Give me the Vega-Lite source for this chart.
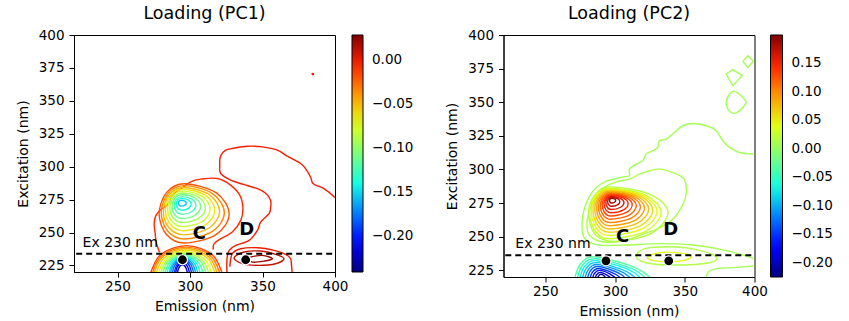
{
"$schema":"https://vega.github.io/schema/vega-lite/v6.json",
"background":"white",
"padding":{"left":15,"top":4,"right":2,"bottom":0},
"spacing":29.5,
"config":{
 "font":"DejaVu Sans",
 "view":{"stroke":"#000","strokeWidth":1},
 "axis":{"labelFont":"DejaVu Sans","labelFontSize":13.5,"labelColor":"#000","titleFont":"DejaVu Sans","titleFontSize":14,"titleFontWeight":"normal","titleColor":"#000","tickColor":"#000","domainColor":"#000","tickSize":5,"grid":false,"labelFlush":false,"labelOverlap":false},
 "axisX":{"labelPadding":2,"titlePadding":7},
 "axisY":{"labelPadding":5,"titlePadding":8},
 "legend":{"labelFont":"DejaVu Sans","labelFontSize":13.5,"labelColor":"#000","padding":0,"offset":17,"labelOffset":9,"gradientStrokeColor":"#000","gradientStrokeWidth":1,"labelOverlap":false},
 "title":{"font":"DejaVu Sans","fontSize":17.5,"fontWeight":"normal","color":"#000","offset":6},
 "line":{"strokeWidth":1.4}
},
"datasets":{
"o1":[
{"g":"A","l":-0.003,"i":0,"x":400,"y":276.5},{"g":"A","l":-0.003,"i":1,"x":392.4,"y":283.3},{"g":"A","l":-0.003,"i":2,"x":385,"y":287},{"g":"A","l":-0.003,"i":3,"x":383.2,"y":292},{"g":"A","l":-0.003,"i":4,"x":380,"y":298},{"g":"A","l":-0.003,"i":5,"x":376.3,"y":302.4},{"g":"A","l":-0.003,"i":6,"x":367,"y":308},{"g":"A","l":-0.003,"i":7,"x":360.2,"y":312.5},{"g":"A","l":-0.003,"i":8,"x":350,"y":315},{"g":"A","l":-0.003,"i":9,"x":339.6,"y":315.5},{"g":"A","l":-0.003,"i":10,"x":330,"y":314},{"g":"A","l":-0.003,"i":11,"x":324.6,"y":312.5},{"g":"A","l":-0.003,"i":12,"x":321,"y":308},{"g":"A","l":-0.003,"i":13,"x":320.5,"y":301},{"g":"A","l":-0.003,"i":14,"x":321.2,"y":294.8},{"g":"A","l":-0.003,"i":15,"x":328.1,"y":289.7},{"g":"A","l":-0.003,"i":16,"x":337,"y":286.5},{"g":"A","l":-0.003,"i":17,"x":346.5,"y":283.3},{"g":"A","l":-0.003,"i":18,"x":352,"y":280},{"g":"A","l":-0.003,"i":19,"x":355.6,"y":274.5},{"g":"A","l":-0.003,"i":20,"x":355.5,"y":268},{"g":"A","l":-0.003,"i":21,"x":354.5,"y":264.3},{"g":"A","l":-0.003,"i":22,"x":348.8,"y":258},{"g":"A","l":-0.003,"i":23,"x":346.5,"y":251.6},{"g":"A","l":-0.003,"i":24,"x":340.8,"y":244},{"g":"A","l":-0.003,"i":25,"x":331.6,"y":240.2},{"g":"A","l":-0.003,"i":26,"x":327,"y":236.4},{"g":"A","l":-0.003,"i":27,"x":325.5,"y":230},{"g":"A","l":-0.003,"i":28,"x":325.5,"y":219},
{"g":"B","l":-0.008,"i":0,"x":279,"y":235},{"g":"B","l":-0.008,"i":1,"x":276.8,"y":242},{"g":"B","l":-0.008,"i":2,"x":276,"y":249},{"g":"B","l":-0.008,"i":3,"x":275.3,"y":257},{"g":"B","l":-0.008,"i":4,"x":276.5,"y":263},{"g":"B","l":-0.008,"i":5,"x":279.9,"y":267.5},{"g":"B","l":-0.008,"i":6,"x":284.5,"y":271},{"g":"B","l":-0.008,"i":7,"x":286.7,"y":276},{"g":"B","l":-0.008,"i":8,"x":289.5,"y":280},{"g":"B","l":-0.008,"i":9,"x":294.8,"y":284},{"g":"B","l":-0.008,"i":10,"x":300.5,"y":288.5},{"g":"B","l":-0.008,"i":11,"x":307.4,"y":290.5},{"g":"B","l":-0.008,"i":12,"x":318.9,"y":291},{"g":"B","l":-0.008,"i":13,"x":328,"y":286},{"g":"B","l":-0.008,"i":14,"x":334.5,"y":278},{"g":"B","l":-0.008,"i":15,"x":336.5,"y":268},{"g":"B","l":-0.008,"i":16,"x":335,"y":259.2},{"g":"B","l":-0.008,"i":17,"x":329.2,"y":250.3},{"g":"B","l":-0.008,"i":18,"x":321.2,"y":245.3},{"g":"B","l":-0.008,"i":19,"x":316.6,"y":241.5},{"g":"B","l":-0.008,"i":20,"x":316,"y":237},
{"g":"Da","l":0,"i":0,"x":327.5,"y":224},{"g":"Da","l":0,"i":1,"x":329.2,"y":233.9},{"g":"Da","l":0,"i":2,"x":335,"y":237.7},{"g":"Da","l":0,"i":3,"x":346.5,"y":238.4},{"g":"Da","l":0,"i":4,"x":357.9,"y":236.4},{"g":"Da","l":0,"i":5,"x":366,"y":233.4},{"g":"Da","l":0,"i":6,"x":369.4,"y":230.1},{"g":"Da","l":0,"i":7,"x":370,"y":225},{"g":"Da","l":0,"i":8,"x":370.5,"y":219},
{"g":"E0","l":-0.015,"i":0,"x":272,"y":216},{"g":"E0","l":-0.015,"i":1,"x":279.47,"y":232.97},{"g":"E0","l":-0.015,"i":2,"x":297.5,"y":240},{"g":"E0","l":-0.015,"i":3,"x":315.53,"y":232.97},{"g":"E0","l":-0.015,"i":4,"x":323,"y":216},
{"g":"E1","l":-0.03,"i":0,"x":273.3,"y":216},{"g":"E1","l":-0.03,"i":1,"x":280.33,"y":232.19},{"g":"E1","l":-0.03,"i":2,"x":297.3,"y":238.9},{"g":"E1","l":-0.03,"i":3,"x":314.27,"y":232.19},{"g":"E1","l":-0.03,"i":4,"x":321.3,"y":216},
{"g":"E2","l":-0.045,"i":0,"x":274.5,"y":216},{"g":"E2","l":-0.045,"i":1,"x":281.11,"y":231.48},{"g":"E2","l":-0.045,"i":2,"x":297.05,"y":237.9},{"g":"E2","l":-0.045,"i":3,"x":312.99,"y":231.48},{"g":"E2","l":-0.045,"i":4,"x":319.6,"y":216},
{"g":"E3","l":-0.06,"i":0,"x":276,"y":216},{"g":"E3","l":-0.06,"i":1,"x":282.15,"y":230.63},{"g":"E3","l":-0.06,"i":2,"x":297,"y":236.7},{"g":"E3","l":-0.06,"i":3,"x":311.85,"y":230.63},{"g":"E3","l":-0.06,"i":4,"x":318,"y":216},
{"g":"E4","l":-0.075,"i":0,"x":277.5,"y":216},{"g":"E4","l":-0.075,"i":1,"x":283.1,"y":229.72},{"g":"E4","l":-0.075,"i":2,"x":296.6,"y":235.4},{"g":"E4","l":-0.075,"i":3,"x":310.1,"y":229.72},{"g":"E4","l":-0.075,"i":4,"x":315.7,"y":216},
{"g":"E5","l":-0.09,"i":0,"x":279,"y":216},{"g":"E5","l":-0.09,"i":1,"x":284.08,"y":228.94},{"g":"E5","l":-0.09,"i":2,"x":296.35,"y":234.3},{"g":"E5","l":-0.09,"i":3,"x":308.62,"y":228.94},{"g":"E5","l":-0.09,"i":4,"x":313.7,"y":216},
{"g":"E6","l":-0.105,"i":0,"x":280.5,"y":216},{"g":"E6","l":-0.105,"i":1,"x":285.07,"y":228.3},{"g":"E6","l":-0.105,"i":2,"x":296.1,"y":233.4},{"g":"E6","l":-0.105,"i":3,"x":307.13,"y":228.3},{"g":"E6","l":-0.105,"i":4,"x":311.7,"y":216},
{"g":"E7","l":-0.12,"i":0,"x":282,"y":216},{"g":"E7","l":-0.12,"i":1,"x":286.06,"y":227.67},{"g":"E7","l":-0.12,"i":2,"x":295.85,"y":232.5},{"g":"E7","l":-0.12,"i":3,"x":305.64,"y":227.67},{"g":"E7","l":-0.12,"i":4,"x":309.7,"y":216},
{"g":"E8","l":-0.135,"i":0,"x":283.5,"y":216},{"g":"E8","l":-0.135,"i":1,"x":287.05,"y":227.17},{"g":"E8","l":-0.135,"i":2,"x":295.6,"y":231.8},{"g":"E8","l":-0.135,"i":3,"x":304.15,"y":227.17},{"g":"E8","l":-0.135,"i":4,"x":307.7,"y":216},
{"g":"E9","l":-0.15,"i":0,"x":285,"y":216},{"g":"E9","l":-0.15,"i":1,"x":288.08,"y":226.61},{"g":"E9","l":-0.15,"i":2,"x":295.5,"y":231},{"g":"E9","l":-0.15,"i":3,"x":302.92,"y":226.61},{"g":"E9","l":-0.15,"i":4,"x":306,"y":216},
{"g":"E10","l":-0.165,"i":0,"x":286,"y":216},{"g":"E10","l":-0.165,"i":1,"x":288.71,"y":226.04},{"g":"E10","l":-0.165,"i":2,"x":295.25,"y":230.2},{"g":"E10","l":-0.165,"i":3,"x":301.79,"y":226.04},{"g":"E10","l":-0.165,"i":4,"x":304.5,"y":216},
{"g":"E11","l":-0.18,"i":0,"x":287.3,"y":216},{"g":"E11","l":-0.18,"i":1,"x":289.6,"y":225.4},{"g":"E11","l":-0.18,"i":2,"x":295.15,"y":229.3},{"g":"E11","l":-0.18,"i":3,"x":300.7,"y":225.4},{"g":"E11","l":-0.18,"i":4,"x":303,"y":216},
{"g":"E12","l":-0.195,"i":0,"x":288.7,"y":216},{"g":"E12","l":-0.195,"i":1,"x":290.58,"y":224.7},{"g":"E12","l":-0.195,"i":2,"x":295.1,"y":228.3},{"g":"E12","l":-0.195,"i":3,"x":299.62,"y":224.7},{"g":"E12","l":-0.195,"i":4,"x":301.5,"y":216},
{"g":"E13","l":-0.21,"i":0,"x":289.7,"y":216},{"g":"E13","l":-0.21,"i":1,"x":291.21,"y":223.78},{"g":"E13","l":-0.21,"i":2,"x":294.85,"y":227},{"g":"E13","l":-0.21,"i":3,"x":298.49,"y":223.78},{"g":"E13","l":-0.21,"i":4,"x":300,"y":216},
{"g":"E14","l":-0.225,"i":0,"x":291,"y":216},{"g":"E14","l":-0.225,"i":1,"x":292.1,"y":222.72},{"g":"E14","l":-0.225,"i":2,"x":294.75,"y":225.5},{"g":"E14","l":-0.225,"i":3,"x":297.4,"y":222.72},{"g":"E14","l":-0.225,"i":4,"x":298.5,"y":216}
],
"c1":[
{"g":"U0","l":-0.02,"i":0,"x":327,"y":264},{"g":"U0","l":-0.02,"i":1,"x":317.92,"y":280.26},{"g":"U0","l":-0.02,"i":2,"x":296,"y":287},{"g":"U0","l":-0.02,"i":3,"x":283.77,"y":280.26},{"g":"U0","l":-0.02,"i":4,"x":278.7,"y":264},{"g":"U0","l":-0.02,"i":5,"x":283.77,"y":248.45},{"g":"U0","l":-0.02,"i":6,"x":296,"y":242},{"g":"U0","l":-0.02,"i":7,"x":317.92,"y":248.45},
{"g":"U1","l":-0.035,"i":0,"x":323.72,"y":264.94},{"g":"U1","l":-0.035,"i":1,"x":315.53,"y":279.55},{"g":"U1","l":-0.035,"i":2,"x":295.78,"y":285.61},{"g":"U1","l":-0.035,"i":3,"x":284.75,"y":279.55},{"g":"U1","l":-0.035,"i":4,"x":280.18,"y":264.94},{"g":"U1","l":-0.035,"i":5,"x":284.75,"y":250.92},{"g":"U1","l":-0.035,"i":6,"x":295.78,"y":245.11},{"g":"U1","l":-0.035,"i":7,"x":315.53,"y":250.92},
{"g":"U2","l":-0.05,"i":0,"x":320.45,"y":265.89},{"g":"U2","l":-0.05,"i":1,"x":313.16,"y":278.85},{"g":"U2","l":-0.05,"i":2,"x":295.56,"y":284.22},{"g":"U2","l":-0.05,"i":3,"x":285.73,"y":278.85},{"g":"U2","l":-0.05,"i":4,"x":281.66,"y":265.89},{"g":"U2","l":-0.05,"i":5,"x":285.73,"y":253.4},{"g":"U2","l":-0.05,"i":6,"x":295.56,"y":248.22},{"g":"U2","l":-0.05,"i":7,"x":313.16,"y":253.4},
{"g":"U3","l":-0.065,"i":0,"x":317.16,"y":266.83},{"g":"U3","l":-0.065,"i":1,"x":310.76,"y":278.14},{"g":"U3","l":-0.065,"i":2,"x":295.33,"y":282.83},{"g":"U3","l":-0.065,"i":3,"x":286.7,"y":278.14},{"g":"U3","l":-0.065,"i":4,"x":283.13,"y":266.83},{"g":"U3","l":-0.065,"i":5,"x":286.7,"y":255.87},{"g":"U3","l":-0.065,"i":6,"x":295.33,"y":251.33},{"g":"U3","l":-0.065,"i":7,"x":310.76,"y":255.87},
{"g":"U4","l":-0.08,"i":0,"x":313.89,"y":267.78},{"g":"U4","l":-0.08,"i":1,"x":308.39,"y":277.44},{"g":"U4","l":-0.08,"i":2,"x":295.11,"y":281.45},{"g":"U4","l":-0.08,"i":3,"x":287.69,"y":277.44},{"g":"U4","l":-0.08,"i":4,"x":284.61,"y":267.78},{"g":"U4","l":-0.08,"i":5,"x":287.69,"y":258.36},{"g":"U4","l":-0.08,"i":6,"x":295.11,"y":254.45},{"g":"U4","l":-0.08,"i":7,"x":308.39,"y":258.36},
{"g":"U5","l":-0.095,"i":0,"x":310.61,"y":268.72},{"g":"U5","l":-0.095,"i":1,"x":306,"y":276.73},{"g":"U5","l":-0.095,"i":2,"x":294.89,"y":280.05},{"g":"U5","l":-0.095,"i":3,"x":288.67,"y":276.73},{"g":"U5","l":-0.095,"i":4,"x":286.09,"y":268.72},{"g":"U5","l":-0.095,"i":5,"x":288.67,"y":260.82},{"g":"U5","l":-0.095,"i":6,"x":294.89,"y":257.55},{"g":"U5","l":-0.095,"i":7,"x":306,"y":260.82},
{"g":"U6","l":-0.11,"i":0,"x":307.34,"y":269.67},{"g":"U6","l":-0.11,"i":1,"x":303.63,"y":276.03},{"g":"U6","l":-0.11,"i":2,"x":294.67,"y":278.67},{"g":"U6","l":-0.11,"i":3,"x":289.65,"y":276.03},{"g":"U6","l":-0.11,"i":4,"x":287.57,"y":269.67},{"g":"U6","l":-0.11,"i":5,"x":289.65,"y":263.31},{"g":"U6","l":-0.11,"i":6,"x":294.67,"y":260.67},{"g":"U6","l":-0.11,"i":7,"x":303.63,"y":263.31},
{"g":"U7","l":-0.125,"i":0,"x":304.05,"y":270.61},{"g":"U7","l":-0.125,"i":1,"x":301.23,"y":275.33},{"g":"U7","l":-0.125,"i":2,"x":294.44,"y":277.28},{"g":"U7","l":-0.125,"i":3,"x":290.62,"y":275.33},{"g":"U7","l":-0.125,"i":4,"x":289.04,"y":270.61},{"g":"U7","l":-0.125,"i":5,"x":290.62,"y":265.78},{"g":"U7","l":-0.125,"i":6,"x":294.44,"y":263.78},{"g":"U7","l":-0.125,"i":7,"x":301.23,"y":265.78},
{"g":"U8","l":-0.14,"i":0,"x":300.78,"y":271.56},{"g":"U8","l":-0.14,"i":1,"x":298.86,"y":274.62},{"g":"U8","l":-0.14,"i":2,"x":294.22,"y":275.89},{"g":"U8","l":-0.14,"i":3,"x":291.6,"y":274.62},{"g":"U8","l":-0.14,"i":4,"x":290.52,"y":271.56},{"g":"U8","l":-0.14,"i":5,"x":291.6,"y":268.26},{"g":"U8","l":-0.14,"i":6,"x":294.22,"y":266.89},{"g":"U8","l":-0.14,"i":7,"x":298.86,"y":268.26},
{"g":"U9","l":-0.155,"i":0,"x":297.5,"y":272.5},{"g":"U9","l":-0.155,"i":1,"x":296.47,"y":273.91},{"g":"U9","l":-0.155,"i":2,"x":294,"y":274.5},{"g":"U9","l":-0.155,"i":3,"x":292.59,"y":273.91},{"g":"U9","l":-0.155,"i":4,"x":292,"y":272.5},{"g":"U9","l":-0.155,"i":5,"x":292.59,"y":270.73},{"g":"U9","l":-0.155,"i":6,"x":294,"y":270},{"g":"U9","l":-0.155,"i":7,"x":296.47,"y":270.73},
{"g":"Db","l":0.01,"i":0,"x":330.4,"y":230.8},{"g":"Db","l":0.01,"i":1,"x":337.3,"y":235.2},{"g":"Db","l":0.01,"i":2,"x":348.8,"y":235.9},{"g":"Db","l":0.01,"i":3,"x":359.1,"y":233.4},{"g":"Db","l":0.01,"i":4,"x":364.8,"y":230.1},{"g":"Db","l":0.01,"i":5,"x":359.1,"y":226.3},{"g":"Db","l":0.01,"i":6,"x":347.6,"y":225},{"g":"Db","l":0.01,"i":7,"x":336.1,"y":226.3},
{"g":"Dc","l":0.02,"i":0,"x":340.7,"y":230.8},{"g":"Dc","l":0.02,"i":1,"x":349.9,"y":232.6},{"g":"Dc","l":0.02,"i":2,"x":356.8,"y":230.1},{"g":"Dc","l":0.02,"i":3,"x":351.1,"y":228.3},{"g":"Dc","l":0.02,"i":4,"x":343,"y":227.5},
{"g":"Dot","l":-0.003,"i":0,"x":384.2,"y":370.3},{"g":"Dot","l":-0.003,"i":1,"x":384.7,"y":370.8},{"g":"Dot","l":-0.003,"i":2,"x":385.2,"y":370.3},{"g":"Dot","l":-0.003,"i":3,"x":384.7,"y":369.8}
],
"o2":[
{"g":"G1","l":0.008,"i":0,"x":400,"y":311.4},{"g":"G1","l":0.008,"i":1,"x":389.2,"y":312.6},{"g":"G1","l":0.008,"i":2,"x":382.1,"y":316.4},{"g":"G1","l":0.008,"i":3,"x":377.3,"y":321.3},{"g":"G1","l":0.008,"i":4,"x":372.5,"y":328.8},{"g":"G1","l":0.008,"i":5,"x":365.3,"y":332.5},{"g":"G1","l":0.008,"i":6,"x":355.7,"y":334.2},{"g":"G1","l":0.008,"i":7,"x":348.5,"y":332.5},{"g":"G1","l":0.008,"i":8,"x":342.6,"y":327.5},{"g":"G1","l":0.008,"i":9,"x":336.6,"y":322.6},{"g":"G1","l":0.008,"i":10,"x":331.8,"y":321.3},{"g":"G1","l":0.008,"i":11,"x":330.6,"y":316.4},{"g":"G1","l":0.008,"i":12,"x":327,"y":313.9},{"g":"G1","l":0.008,"i":13,"x":322.2,"y":311.4},{"g":"G1","l":0.008,"i":14,"x":319.9,"y":306.4},{"g":"G1","l":0.008,"i":15,"x":315.1,"y":303.9},{"g":"G1","l":0.008,"i":16,"x":310.3,"y":300.2},{"g":"G1","l":0.008,"i":17,"x":310.3,"y":295.3},{"g":"G1","l":0.008,"i":18,"x":305.5,"y":294.5},{"g":"G1","l":0.008,"i":19,"x":300,"y":293},{"g":"G1","l":0.008,"i":20,"x":293,"y":291},{"g":"G1","l":0.008,"i":21,"x":287,"y":287},{"g":"G1","l":0.008,"i":22,"x":282.5,"y":281.5},{"g":"G1","l":0.008,"i":23,"x":279,"y":274},{"g":"G1","l":0.008,"i":24,"x":277,"y":266},{"g":"G1","l":0.008,"i":25,"x":276.3,"y":259},{"g":"G1","l":0.008,"i":26,"x":276.8,"y":252},{"g":"G1","l":0.008,"i":27,"x":279.2,"y":247.5},{"g":"G1","l":0.008,"i":28,"x":284,"y":244.8},{"g":"G1","l":0.008,"i":29,"x":291.2,"y":243.5},{"g":"G1","l":0.008,"i":30,"x":308,"y":243.8},{"g":"G1","l":0.008,"i":31,"x":331.8,"y":244.8},{"g":"G1","l":0.008,"i":32,"x":355.7,"y":243.8},{"g":"G1","l":0.008,"i":33,"x":374.9,"y":240.7},{"g":"G1","l":0.008,"i":34,"x":394,"y":235.7},{"g":"G1","l":0.008,"i":35,"x":400,"y":233.2},
{"g":"BR","l":0.008,"i":0,"x":365,"y":219},{"g":"BR","l":0.008,"i":1,"x":367.7,"y":224.5},{"g":"BR","l":0.008,"i":2,"x":375,"y":226.5},{"g":"BR","l":0.008,"i":3,"x":384.4,"y":227},{"g":"BR","l":0.008,"i":4,"x":400,"y":228.2},
{"g":"F0","l":-0.03,"i":0,"x":270.5,"y":216},{"g":"F0","l":-0.03,"i":1,"x":275.04,"y":229.43},{"g":"F0","l":-0.03,"i":2,"x":286,"y":235},{"g":"F0","l":-0.03,"i":3,"x":315.69,"y":226.45},{"g":"F0","l":-0.03,"i":4,"x":328,"y":216},
{"g":"F1","l":-0.05,"i":0,"x":272.33,"y":216},{"g":"F1","l":-0.05,"i":1,"x":276.46,"y":228.41},{"g":"F1","l":-0.05,"i":2,"x":286.44,"y":233.56},{"g":"F1","l":-0.05,"i":3,"x":313.23,"y":225.66},{"g":"F1","l":-0.05,"i":4,"x":324.33,"y":216},
{"g":"F2","l":-0.07,"i":0,"x":274.17,"y":216},{"g":"F2","l":-0.07,"i":1,"x":277.9,"y":227.39},{"g":"F2","l":-0.07,"i":2,"x":286.89,"y":232.11},{"g":"F2","l":-0.07,"i":3,"x":310.77,"y":224.86},{"g":"F2","l":-0.07,"i":4,"x":320.67,"y":216},
{"g":"F3","l":-0.09,"i":0,"x":276,"y":216},{"g":"F3","l":-0.09,"i":1,"x":279.32,"y":226.37},{"g":"F3","l":-0.09,"i":2,"x":287.33,"y":230.67},{"g":"F3","l":-0.09,"i":3,"x":308.31,"y":224.07},{"g":"F3","l":-0.09,"i":4,"x":317,"y":216},
{"g":"F4","l":-0.11,"i":0,"x":277.84,"y":216},{"g":"F4","l":-0.11,"i":1,"x":280.75,"y":225.35},{"g":"F4","l":-0.11,"i":2,"x":287.78,"y":229.22},{"g":"F4","l":-0.11,"i":3,"x":305.85,"y":223.27},{"g":"F4","l":-0.11,"i":4,"x":313.34,"y":216},
{"g":"F5","l":-0.13,"i":0,"x":279.66,"y":216},{"g":"F5","l":-0.13,"i":1,"x":282.17,"y":224.33},{"g":"F5","l":-0.13,"i":2,"x":288.22,"y":227.78},{"g":"F5","l":-0.13,"i":3,"x":303.38,"y":222.48},{"g":"F5","l":-0.13,"i":4,"x":309.66,"y":216},
{"g":"F6","l":-0.15,"i":0,"x":281.5,"y":216},{"g":"F6","l":-0.15,"i":1,"x":283.6,"y":223.3},{"g":"F6","l":-0.15,"i":2,"x":288.67,"y":226.33},{"g":"F6","l":-0.15,"i":3,"x":300.92,"y":221.68},{"g":"F6","l":-0.15,"i":4,"x":306,"y":216},
{"g":"F7","l":-0.17,"i":0,"x":283.33,"y":216},{"g":"F7","l":-0.17,"i":1,"x":285.02,"y":222.29},{"g":"F7","l":-0.17,"i":2,"x":289.11,"y":224.89},{"g":"F7","l":-0.17,"i":3,"x":298.46,"y":220.89},{"g":"F7","l":-0.17,"i":4,"x":302.33,"y":216},
{"g":"F8","l":-0.19,"i":0,"x":285.17,"y":216},{"g":"F8","l":-0.19,"i":1,"x":286.46,"y":221.26},{"g":"F8","l":-0.19,"i":2,"x":289.56,"y":223.44},{"g":"F8","l":-0.19,"i":3,"x":296,"y":220.09},{"g":"F8","l":-0.19,"i":4,"x":298.67,"y":216},
{"g":"F9","l":-0.21,"i":0,"x":287,"y":216},{"g":"F9","l":-0.21,"i":1,"x":287.88,"y":220.24},{"g":"F9","l":-0.21,"i":2,"x":290,"y":222},{"g":"F9","l":-0.21,"i":3,"x":293.54,"y":219.3},{"g":"F9","l":-0.21,"i":4,"x":295,"y":216}
],
"c2":[
{"g":"G2","l":0.012,"i":0,"x":300.7,"y":290.8},{"g":"G2","l":0.012,"i":1,"x":310.3,"y":292.8},{"g":"G2","l":0.012,"i":2,"x":317.5,"y":296.5},{"g":"G2","l":0.012,"i":3,"x":324.6,"y":299},{"g":"G2","l":0.012,"i":4,"x":331.8,"y":300.2},{"g":"G2","l":0.012,"i":5,"x":341.4,"y":297.7},{"g":"G2","l":0.012,"i":6,"x":348.6,"y":294},{"g":"G2","l":0.012,"i":7,"x":351,"y":287.8},{"g":"G2","l":0.012,"i":8,"x":350.5,"y":279.1},{"g":"G2","l":0.012,"i":9,"x":347.4,"y":271.6},{"g":"G2","l":0.012,"i":10,"x":342.6,"y":264.2},{"g":"G2","l":0.012,"i":11,"x":336.6,"y":259.2},{"g":"G2","l":0.012,"i":12,"x":329.4,"y":255.5},{"g":"G2","l":0.012,"i":13,"x":319.9,"y":251.8},{"g":"G2","l":0.012,"i":14,"x":311.5,"y":248.6},{"g":"G2","l":0.012,"i":15,"x":304.3,"y":246.6},{"g":"G2","l":0.012,"i":16,"x":295.9,"y":245.8},{"g":"G2","l":0.012,"i":17,"x":288.8,"y":246.6},{"g":"G2","l":0.012,"i":18,"x":282.8,"y":249.8},{"g":"G2","l":0.012,"i":19,"x":280.2,"y":254.3},{"g":"G2","l":0.012,"i":20,"x":279.9,"y":261.8},{"g":"G2","l":0.012,"i":21,"x":281.5,"y":269.2},{"g":"G2","l":0.012,"i":22,"x":284,"y":275.5},{"g":"G2","l":0.012,"i":23,"x":288,"y":281.5},{"g":"G2","l":0.012,"i":24,"x":293,"y":287},
{"g":"Gx","l":0.018,"i":0,"x":338,"y":268},{"g":"Gx","l":0.018,"i":1,"x":325,"y":281.5},{"g":"Gx","l":0.018,"i":2,"x":296,"y":287},{"g":"Gx","l":0.018,"i":3,"x":285.5,"y":281},{"g":"Gx","l":0.018,"i":4,"x":281,"y":267},{"g":"Gx","l":0.018,"i":5,"x":286,"y":251.5},{"g":"Gx","l":0.018,"i":6,"x":300,"y":246.5},{"g":"Gx","l":0.018,"i":7,"x":326,"y":252.5},
{"g":"Q0","l":0.03,"i":0,"x":333,"y":268},{"g":"Q0","l":0.03,"i":1,"x":322.16,"y":280.73},{"g":"Q0","l":0.03,"i":2,"x":296,"y":286},{"g":"Q0","l":0.03,"i":3,"x":285.82,"y":280.73},{"g":"Q0","l":0.03,"i":4,"x":281.6,"y":268},{"g":"Q0","l":0.03,"i":5,"x":285.82,"y":254.21},{"g":"Q0","l":0.03,"i":6,"x":296,"y":248.5},{"g":"Q0","l":0.03,"i":7,"x":322.16,"y":254.21},
{"g":"Q1","l":0.0445,"i":0,"x":330.05,"y":268.82},{"g":"Q1","l":0.0445,"i":1,"x":320.11,"y":280.49},{"g":"Q1","l":0.0445,"i":2,"x":296.14,"y":285.32},{"g":"Q1","l":0.0445,"i":3,"x":286.79,"y":280.49},{"g":"Q1","l":0.0445,"i":4,"x":282.91,"y":268.82},{"g":"Q1","l":0.0445,"i":5,"x":286.79,"y":256.16},{"g":"Q1","l":0.0445,"i":6,"x":296.14,"y":250.91},{"g":"Q1","l":0.0445,"i":7,"x":320.11,"y":256.16},
{"g":"Q2","l":0.059,"i":0,"x":327.09,"y":269.64},{"g":"Q2","l":0.059,"i":1,"x":318.06,"y":280.25},{"g":"Q2","l":0.059,"i":2,"x":296.27,"y":284.64},{"g":"Q2","l":0.059,"i":3,"x":287.75,"y":280.25},{"g":"Q2","l":0.059,"i":4,"x":284.22,"y":269.64},{"g":"Q2","l":0.059,"i":5,"x":287.75,"y":258.1},{"g":"Q2","l":0.059,"i":6,"x":296.27,"y":253.32},{"g":"Q2","l":0.059,"i":7,"x":318.06,"y":258.1},
{"g":"Q3","l":0.0735,"i":0,"x":324.14,"y":270.45},{"g":"Q3","l":0.0735,"i":1,"x":316.02,"y":279.99},{"g":"Q3","l":0.0735,"i":2,"x":296.41,"y":283.95},{"g":"Q3","l":0.0735,"i":3,"x":288.72,"y":279.99},{"g":"Q3","l":0.0735,"i":4,"x":285.53,"y":270.45},{"g":"Q3","l":0.0735,"i":5,"x":288.72,"y":260.04},{"g":"Q3","l":0.0735,"i":6,"x":296.41,"y":255.72},{"g":"Q3","l":0.0735,"i":7,"x":316.02,"y":260.04},
{"g":"Q4","l":0.088,"i":0,"x":321.19,"y":271.27},{"g":"Q4","l":0.088,"i":1,"x":313.97,"y":279.75},{"g":"Q4","l":0.088,"i":2,"x":296.55,"y":283.27},{"g":"Q4","l":0.088,"i":3,"x":289.69,"y":279.75},{"g":"Q4","l":0.088,"i":4,"x":286.84,"y":271.27},{"g":"Q4","l":0.088,"i":5,"x":289.69,"y":261.98},{"g":"Q4","l":0.088,"i":6,"x":296.55,"y":258.13},{"g":"Q4","l":0.088,"i":7,"x":313.97,"y":261.98},
{"g":"Q5","l":0.1025,"i":0,"x":318.23,"y":272.09},{"g":"Q5","l":0.1025,"i":1,"x":311.92,"y":279.51},{"g":"Q5","l":0.1025,"i":2,"x":296.68,"y":282.59},{"g":"Q5","l":0.1025,"i":3,"x":290.64,"y":279.51},{"g":"Q5","l":0.1025,"i":4,"x":288.14,"y":272.09},{"g":"Q5","l":0.1025,"i":5,"x":290.64,"y":263.92},{"g":"Q5","l":0.1025,"i":6,"x":296.68,"y":260.54},{"g":"Q5","l":0.1025,"i":7,"x":311.92,"y":263.92},
{"g":"Q6","l":0.117,"i":0,"x":315.27,"y":272.91},{"g":"Q6","l":0.117,"i":1,"x":309.86,"y":279.27},{"g":"Q6","l":0.117,"i":2,"x":296.82,"y":281.91},{"g":"Q6","l":0.117,"i":3,"x":291.62,"y":279.27},{"g":"Q6","l":0.117,"i":4,"x":289.46,"y":272.91},{"g":"Q6","l":0.117,"i":5,"x":291.62,"y":265.88},{"g":"Q6","l":0.117,"i":6,"x":296.82,"y":262.96},{"g":"Q6","l":0.117,"i":7,"x":309.86,"y":265.88},
{"g":"Q7","l":0.1315,"i":0,"x":312.31,"y":273.73},{"g":"Q7","l":0.1315,"i":1,"x":307.81,"y":279.03},{"g":"Q7","l":0.1315,"i":2,"x":296.95,"y":281.23},{"g":"Q7","l":0.1315,"i":3,"x":292.57,"y":279.03},{"g":"Q7","l":0.1315,"i":4,"x":290.76,"y":273.73},{"g":"Q7","l":0.1315,"i":5,"x":292.57,"y":267.82},{"g":"Q7","l":0.1315,"i":6,"x":296.95,"y":265.37},{"g":"Q7","l":0.1315,"i":7,"x":307.81,"y":267.82},
{"g":"Q8","l":0.146,"i":0,"x":309.36,"y":274.55},{"g":"Q8","l":0.146,"i":1,"x":305.76,"y":278.79},{"g":"Q8","l":0.146,"i":2,"x":297.09,"y":280.55},{"g":"Q8","l":0.146,"i":3,"x":293.54,"y":278.79},{"g":"Q8","l":0.146,"i":4,"x":292.07,"y":274.55},{"g":"Q8","l":0.146,"i":5,"x":293.54,"y":269.76},{"g":"Q8","l":0.146,"i":6,"x":297.09,"y":267.78},{"g":"Q8","l":0.146,"i":7,"x":305.76,"y":269.76},
{"g":"Q9","l":0.1605,"i":0,"x":306.41,"y":275.36},{"g":"Q9","l":0.1605,"i":1,"x":303.72,"y":278.54},{"g":"Q9","l":0.1605,"i":2,"x":297.23,"y":279.86},{"g":"Q9","l":0.1605,"i":3,"x":294.51,"y":278.54},{"g":"Q9","l":0.1605,"i":4,"x":293.38,"y":275.36},{"g":"Q9","l":0.1605,"i":5,"x":294.51,"y":271.7},{"g":"Q9","l":0.1605,"i":6,"x":297.23,"y":270.18},{"g":"Q9","l":0.1605,"i":7,"x":303.72,"y":271.7},
{"g":"Q10","l":0.175,"i":0,"x":303.45,"y":276.18},{"g":"Q10","l":0.175,"i":1,"x":301.67,"y":278.3},{"g":"Q10","l":0.175,"i":2,"x":297.36,"y":279.18},{"g":"Q10","l":0.175,"i":3,"x":295.47,"y":278.3},{"g":"Q10","l":0.175,"i":4,"x":294.69,"y":276.18},{"g":"Q10","l":0.175,"i":5,"x":295.47,"y":273.64},{"g":"Q10","l":0.175,"i":6,"x":297.36,"y":272.59},{"g":"Q10","l":0.175,"i":7,"x":301.67,"y":273.64},
{"g":"Q11","l":0.1895,"i":0,"x":300.5,"y":277},{"g":"Q11","l":0.1895,"i":1,"x":299.62,"y":278.06},{"g":"Q11","l":0.1895,"i":2,"x":297.5,"y":278.5},{"g":"Q11","l":0.1895,"i":3,"x":296.44,"y":278.06},{"g":"Q11","l":0.1895,"i":4,"x":296,"y":277},{"g":"Q11","l":0.1895,"i":5,"x":296.44,"y":275.59},{"g":"Q11","l":0.1895,"i":6,"x":297.5,"y":275},{"g":"Q11","l":0.1895,"i":7,"x":299.62,"y":275.59},
{"g":"Dy","l":0.045,"i":0,"x":323.4,"y":234.9},{"g":"Dy","l":0.045,"i":1,"x":331.8,"y":238.1},{"g":"Dy","l":0.045,"i":2,"x":343.8,"y":238.1},{"g":"Dy","l":0.045,"i":3,"x":354.5,"y":235.6},{"g":"Dy","l":0.045,"i":4,"x":349.7,"y":232.4},{"g":"Dy","l":0.045,"i":5,"x":338.9,"y":231.4},{"g":"Dy","l":0.045,"i":6,"x":326.9,"y":232.4},
{"g":"Dg","l":0.015,"i":0,"x":315.1,"y":235.6},{"g":"Dg","l":0.015,"i":1,"x":322.2,"y":241.3},{"g":"Dg","l":0.015,"i":2,"x":343.8,"y":242.3},{"g":"Dg","l":0.015,"i":3,"x":360.4,"y":239.8},{"g":"Dg","l":0.015,"i":4,"x":372.5,"y":234.9},{"g":"Dg","l":0.015,"i":5,"x":367.7,"y":230.6},{"g":"Dg","l":0.015,"i":6,"x":341.4,"y":228.9},{"g":"Dg","l":0.015,"i":7,"x":322.2,"y":230.6},
{"g":"L3","l":0.008,"i":0,"x":382.1,"y":356.1},{"g":"L3","l":0.008,"i":1,"x":385.6,"y":358.1},{"g":"L3","l":0.008,"i":2,"x":390.4,"y":354.8},{"g":"L3","l":0.008,"i":3,"x":394,"y":349.9},{"g":"L3","l":0.008,"i":4,"x":390.4,"y":344.9},{"g":"L3","l":0.008,"i":5,"x":385.6,"y":341.7},{"g":"L3","l":0.008,"i":6,"x":380.9,"y":344.9},{"g":"L3","l":0.008,"i":7,"x":379.7,"y":349.9}
],
"d2":[
{"g":"L1","l":0.008,"i":0,"x":391.6,"y":380.4},{"g":"L1","l":0.008,"i":1,"x":395.2,"y":384.6},{"g":"L1","l":0.008,"i":2,"x":399.3,"y":380.4},{"g":"L1","l":0.008,"i":3,"x":395.2,"y":375.9},
{"g":"L2","l":0.008,"i":0,"x":379.7,"y":371},{"g":"L2","l":0.008,"i":1,"x":384.4,"y":374.2},{"g":"L2","l":0.008,"i":2,"x":391.1,"y":369.7},{"g":"L2","l":0.008,"i":3,"x":384.4,"y":362.3}
]
},
"resolve":{"scale":{"color":"independent","x":"independent","y":"independent"},"legend":{"color":"independent"}},
"hconcat":[
{
 "width":261,"height":237,
 "title":{"text":"Loading (PC1)","font":"DejaVu Sans","fontSize":17.5,"fontWeight":"normal","color":"#000","offset":6},
 "encoding":{
  "x":{"field":"x","type":"quantitative","scale":{"domain":[220,400],"nice":false,"zero":false},"axis":{"values":[250,300,350,400],"title":"Emission (nm)"}},
  "y":{"field":"y","type":"quantitative","scale":{"domain":[220,400],"nice":false,"zero":false},"axis":{"values":[225,250,275,300,325,350,375,400],"title":"Excitation (nm)"}}
 },
 "layer":[
  {"data":{"name":"o1"},"mark":{"type":"line","interpolate":"cardinal","clip":true},
   "encoding":{"detail":{"field":"g"},"order":{"field":"i","type":"quantitative"},
    "color":{"field":"l","type":"quantitative","scale":{"domain":[-0.241,-0.207375,-0.17375,-0.140125,-0.1065,-0.072875,-0.03925,-0.005625,0.028],"range":["#000080","#0000ff","#0080ff","#14ffe2","#7bff7b","#e2ff14","#ff9700","#ff2100","#800000"],"interpolate":"rgb"},
     "legend":{"title":null,"values":[-0.2,-0.15,-0.1,-0.05,0],"format":".2f","gradientLength":237,"gradientThickness":11,"labelFontSize":13.5,"labelFont":"DejaVu Sans","labelColor":"#000","labelOffset":9,"offset":17}}}},
  {"data":{"name":"c1"},"mark":{"type":"line","interpolate":"cardinal-closed","clip":true},
   "encoding":{"detail":{"field":"g"},"order":{"field":"i","type":"quantitative"},
    "color":{"field":"l","type":"quantitative","scale":{"domain":[-0.241,-0.207375,-0.17375,-0.140125,-0.1065,-0.072875,-0.03925,-0.005625,0.028],"range":["#000080","#0000ff","#0080ff","#14ffe2","#7bff7b","#e2ff14","#ff9700","#ff2100","#800000"],"interpolate":"rgb"},
     "legend":{"title":null,"values":[-0.2,-0.15,-0.1,-0.05,0],"format":".2f","gradientLength":237,"gradientThickness":11,"labelFontSize":13.5,"labelFont":"DejaVu Sans","labelColor":"#000","labelOffset":9,"offset":17}}}},
  {"data":{"values":[{"x":221.5,"x2":399.5,"y":233.9}]},"mark":{"type":"rule","strokeDash":[6,4],"strokeWidth":2,"color":"#000"},"encoding":{"x2":{"field":"x2"}}},
  {"data":{"values":[{"x":294.8,"y":229.3},{"x":338.4,"y":229.3}]},"mark":{"type":"point","filled":true,"size":100,"color":"#000","stroke":"#fff","strokeWidth":1.2,"opacity":1}},
  {"data":{"values":[{"t":"C","x":306.5,"y":248.5},{"t":"D","x":339.2,"y":251.7}]},"mark":{"type":"text","font":"DejaVu Sans","fontSize":18,"fontWeight":"bold","color":"#000","baseline":"middle","align":"center"},"encoding":{"text":{"field":"t"}}},
  {"data":{"values":[{"t":"Ex 230 nm","x":225.9,"y":239}]},"mark":{"type":"text","font":"DejaVu Sans","fontSize":14,"color":"#000","baseline":"alphabetic","align":"left"},"encoding":{"text":{"field":"t"}}}
 ]
},
{
 "width":251,"height":242,
 "title":{"text":"Loading (PC2)","font":"DejaVu Sans","fontSize":17.5,"fontWeight":"normal","color":"#000","offset":6},
 "encoding":{
  "x":{"field":"x","type":"quantitative","scale":{"domain":[220,400],"nice":false,"zero":false},"axis":{"values":[250,300,350,400],"title":"Emission (nm)"}},
  "y":{"field":"y","type":"quantitative","scale":{"domain":[220,400],"nice":false,"zero":false},"axis":{"values":[225,250,275,300,325,350,375,400],"title":"Excitation (nm)"}}
 },
 "layer":[
  {"data":{"name":"o2"},"mark":{"type":"line","interpolate":"cardinal","clip":true},
   "encoding":{"detail":{"field":"g"},"order":{"field":"i","type":"quantitative"},
    "color":{"field":"l","type":"quantitative","scale":{"domain":[-0.225,-0.171875,-0.11875,-0.065625,-0.0125,0.040625,0.09375,0.146875,0.2],"range":["#000080","#0000ff","#0080ff","#14ffe2","#7bff7b","#e2ff14","#ff9700","#ff2100","#800000"],"interpolate":"rgb"},
     "legend":{"title":null,"values":[-0.2,-0.15,-0.1,-0.05,0,0.05,0.1,0.15],"format":".2f","gradientLength":242,"gradientThickness":12,"labelFontSize":13.5,"labelFont":"DejaVu Sans","labelColor":"#000","labelOffset":9,"offset":16}}}},
  {"data":{"name":"c2"},"mark":{"type":"line","interpolate":"cardinal-closed","clip":true},
   "encoding":{"detail":{"field":"g"},"order":{"field":"i","type":"quantitative"},
    "color":{"field":"l","type":"quantitative","scale":{"domain":[-0.225,-0.171875,-0.11875,-0.065625,-0.0125,0.040625,0.09375,0.146875,0.2],"range":["#000080","#0000ff","#0080ff","#14ffe2","#7bff7b","#e2ff14","#ff9700","#ff2100","#800000"],"interpolate":"rgb"},
     "legend":{"title":null,"values":[-0.2,-0.15,-0.1,-0.05,0,0.05,0.1,0.15],"format":".2f","gradientLength":242,"gradientThickness":12,"labelFontSize":13.5,"labelFont":"DejaVu Sans","labelColor":"#000","labelOffset":9,"offset":16}}}},
  {"data":{"name":"d2"},"mark":{"type":"line","interpolate":"linear-closed","clip":true},
   "encoding":{"detail":{"field":"g"},"order":{"field":"i","type":"quantitative"},
    "color":{"field":"l","type":"quantitative","scale":{"domain":[-0.225,-0.171875,-0.11875,-0.065625,-0.0125,0.040625,0.09375,0.146875,0.2],"range":["#000080","#0000ff","#0080ff","#14ffe2","#7bff7b","#e2ff14","#ff9700","#ff2100","#800000"],"interpolate":"rgb"},
     "legend":{"title":null,"values":[-0.2,-0.15,-0.1,-0.05,0,0.05,0.1,0.15],"format":".2f","gradientLength":242,"gradientThickness":12,"labelFontSize":13.5,"labelFont":"DejaVu Sans","labelColor":"#000","labelOffset":9,"offset":16}}}},
  {"data":{"values":[{"x":221.3,"x2":399.5,"y":236.2}]},"mark":{"type":"rule","strokeDash":[6,4],"strokeWidth":2,"color":"#000"},"encoding":{"x2":{"field":"x2"}}},
  {"data":{"values":[{"x":293.5,"y":232},{"x":338.5,"y":232}]},"mark":{"type":"point","filled":true,"size":100,"color":"#000","stroke":"#fff","strokeWidth":1.2,"opacity":1}},
  {"data":{"values":[{"t":"C","x":305.5,"y":250},{"t":"D","x":340,"y":255}]},"mark":{"type":"text","font":"DejaVu Sans","fontSize":18,"fontWeight":"bold","color":"#000","baseline":"middle","align":"center"},"encoding":{"text":{"field":"t"}}},
  {"data":{"values":[{"t":"Ex 230 nm","x":228.5,"y":241.9}]},"mark":{"type":"text","font":"DejaVu Sans","fontSize":14,"color":"#000","baseline":"alphabetic","align":"left"},"encoding":{"text":{"field":"t"}}}
 ]
}
]
}
